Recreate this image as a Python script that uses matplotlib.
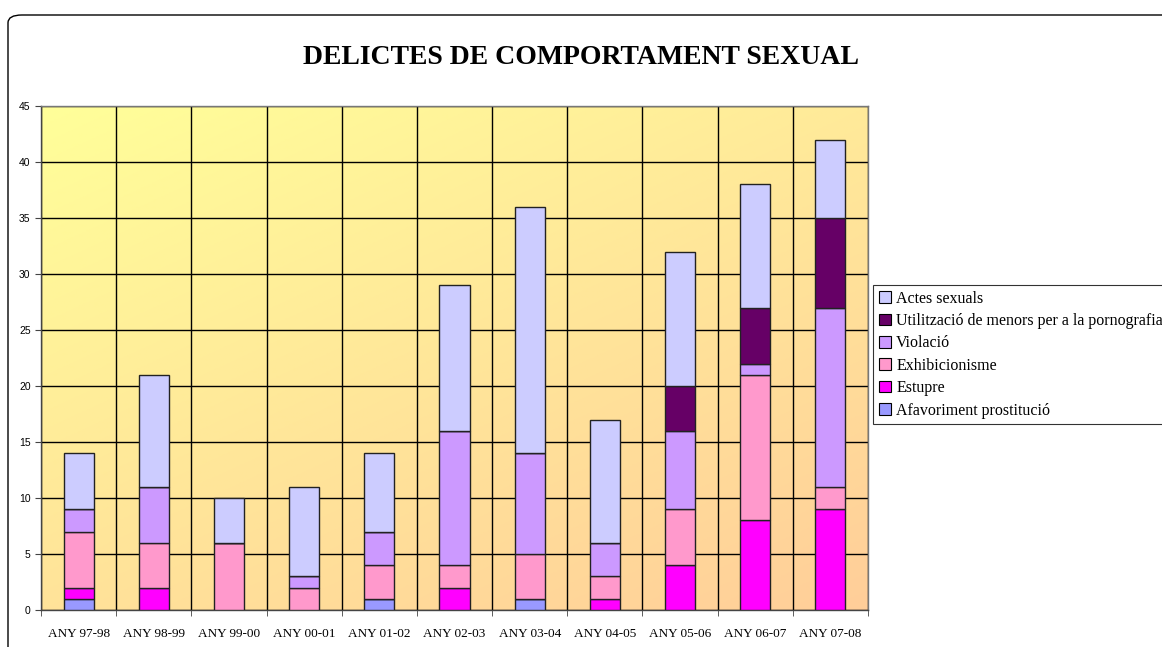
import numpy as np
import matplotlib
matplotlib.use("Agg")
import matplotlib.pyplot as plt
from matplotlib.patches import FancyBboxPatch, Patch

# ── data ──
years = ["ANY 97-98", "ANY 98-99", "ANY 99-00", "ANY 00-01", "ANY 01-02", "ANY 02-03",
         "ANY 03-04", "ANY 04-05", "ANY 05-06", "ANY 06-07", "ANY 07-08"]
afavoriment  = [1, 0, 0, 0, 1, 0, 1, 0, 0, 0, 0]
estupre      = [1, 2, 0, 0, 0, 2, 0, 1, 4, 8, 9]
exhibicio    = [5, 4, 6, 2, 3, 2, 4, 2, 5, 13, 2]
violacio     = [2, 5, 0, 1, 3, 12, 9, 3, 7, 1, 16]
utilitzacio  = [0, 0, 0, 0, 0, 0, 0, 0, 4, 5, 8]
actes        = [5, 10, 4, 8, 7, 13, 22, 11, 12, 11, 7]

series = [
    ("Afavoriment prostitució", afavoriment, "#9999FF"),
    ("Estupre", estupre, "#FF00FF"),
    ("Exhibicionisme", exhibicio, "#FF99CC"),
    ("Violació", violacio, "#CC99FF"),
    ("Utilització de menors per a la pornografia", utilitzacio, "#660066"),
    ("Actes sexuals", actes, "#CCCCFF"),
]

SERIF = "Liberation Serif"
SANS = "Liberation Sans"

fig = plt.figure(figsize=(11.62, 6.47), dpi=100, facecolor="white")

# rounded outer border
border = FancyBboxPatch((8 / 1162, 1 - 700 / 647), 1.2, 685 / 647,
                        boxstyle="round,pad=0,rounding_size=0.012",
                        transform=fig.transFigure, facecolor="none",
                        edgecolor="black", linewidth=1.0)
fig.patches.append(border)

ax = fig.add_axes([41 / 1162, 1 - 610 / 647, (868 - 41) / 1162, (610 - 106) / 647])

n = len(years)
x = np.arange(n)

# gradient background (yellow top-left -> peach bottom-right)
gx, gy = np.meshgrid(np.linspace(0, 1, 200), np.linspace(0, 1, 200))
t = np.clip((gx * 0.6 + gy * 0.8) / 1.4, 0, 1)
c0 = np.array([255, 255, 153]) / 255
c1 = np.array([255, 206, 153]) / 255
img = c0[None, None, :] * (1 - t[..., None]) + c1[None, None, :] * t[..., None]
ax.imshow(img, extent=[-0.5, n - 0.5, 0, 45], aspect="auto", origin="upper", zorder=0)

bottom = np.zeros(n)
for label, vals, col in series:
    vals = np.array(vals, dtype=float)
    ax.bar(x, vals, width=0.4, bottom=bottom, color=col, edgecolor="#222222",
           linewidth=1.0, zorder=3, label=label)
    bottom += vals

ax.set_xlim(-0.5, n - 0.5)
ax.set_ylim(0, 45)
ax.set_yticks(range(0, 46, 5))
ax.set_xticks(x)
ax.set_xticklabels(years, fontsize=9.5, family=SERIF)
ax.set_xticks(np.arange(-0.5, n, 1), minor=True)
ax.tick_params(axis="x", which="major", length=0, pad=13)
ax.tick_params(axis="x", which="minor", length=4, color="#444444")
ax.tick_params(axis="y", labelsize=7.5, length=4, color="#444444")
for lbl in ax.get_yticklabels():
    lbl.set_family(SANS)

ax.grid(axis="y", which="major", color="black", linewidth=1.0, zorder=1)
ax.grid(axis="x", which="minor", color="black", linewidth=1.0, zorder=1)
ax.set_axisbelow(True)
for s in ax.spines.values():
    s.set_color("#777777")
    s.set_linewidth(1.0)
ax.spines["left"].set_color("#444444")
ax.spines["bottom"].set_color("#444444")

fig.text(0.5, 1 - 57 / 647, "DELICTES DE COMPORTAMENT SEXUAL", ha="center", va="center",
         fontsize=20, fontweight="bold", family=SERIF)

handles = [Patch(facecolor=col, edgecolor="black", linewidth=0.8, label=label)
           for label, vals, col in reversed(series)]
leg = fig.legend(handles=handles, loc="upper left",
                 bbox_to_anchor=(873 / 1162, 1 - 285 / 647),
                 prop={"family": SERIF, "size": 11.5}, frameon=True, fancybox=False,
                 edgecolor="black", handlelength=0.75, handleheight=0.75,
                 handletextpad=0.35, labelspacing=0.4, borderpad=0.35,
                 borderaxespad=0)
leg.get_frame().set_linewidth(0.8)

fig.savefig("out.png", dpi=100, facecolor="white")
